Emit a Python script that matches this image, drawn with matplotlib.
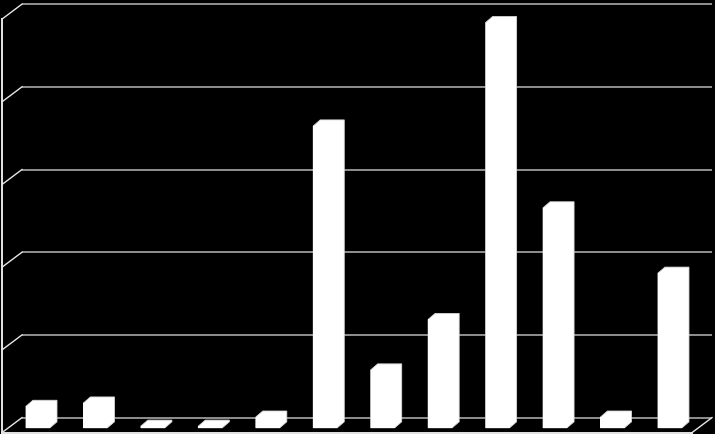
import matplotlib
matplotlib.use('Agg')
import matplotlib.pyplot as plt
from matplotlib.patches import Polygon
import numpy as np

# values (grid step = 10)
categories = list(range(1, 13))
values = [2.6, 3.0, 0.2, 0.2, 1.3, 36.5, 7.0, 13.1, 49.0, 26.6, 1.3, 18.7]
grid_values = [0, 10, 20, 30, 40, 50]

# oblique "3d" offsets in data units (x in categories, y in value units)
BAR_W = 0.418
BAR_DX, BAR_DY = 0.122, 0.73       # depth of a single bar
BACK_DX, BACK_DY = 0.237, 1.233    # bar plane -> back wall
FRONT_DX, FRONT_DY = -0.111, -0.58  # bar plane -> front floor edge
X_LEFT, X_RIGHT = -0.515, 11.495   # extent of the box in the bar plane

fig = plt.figure(figsize=(7.15, 4.35), dpi=100, facecolor='black')
ax = fig.add_axes([0, 0, 1, 1])
ax.set_facecolor('black')
ax.set_xlim(-0.661, 11.784)
ax.set_ylim(-0.75, 51.85)
ax.axis('off')

grid_col = '#a8a8a8'
edge_col = '#e6e6e6'

# back wall gridlines + their run down the left wall
for g in grid_values:
    ax.plot([X_LEFT + BACK_DX, X_RIGHT + BACK_DX], [g + BACK_DY, g + BACK_DY],
            color=grid_col, lw=1.2, solid_capstyle='butt')
    ax.plot([X_LEFT + BACK_DX, X_LEFT + FRONT_DX], [g + BACK_DY, g + FRONT_DY],
            color=edge_col, lw=1.0)

# left wall front edge
ax.plot([X_LEFT + FRONT_DX, X_LEFT + FRONT_DX], [FRONT_DY, grid_values[-1] + FRONT_DY],
        color=edge_col, lw=1.4)
# floor front edge and right diagonal
ax.plot([X_LEFT + FRONT_DX, X_RIGHT + FRONT_DX], [FRONT_DY, FRONT_DY],
        color=edge_col, lw=1.4)
ax.plot([X_RIGHT + FRONT_DX, X_RIGHT + BACK_DX], [FRONT_DY, BACK_DY],
        color=edge_col, lw=1.0)

# bars: white silhouette of front, top and side faces, then the front face
x = np.arange(len(categories))
for xi, v in zip(x, values):
    x0, x1 = xi - BAR_W / 2, xi + BAR_W / 2
    outline = [(x0, 0), (x0, v), (x0 + BAR_DX, v + BAR_DY),
               (x1 + BAR_DX, v + BAR_DY), (x1 + BAR_DX, BAR_DY), (x1, 0)]
    ax.add_patch(Polygon(outline, closed=True, facecolor='white',
                         edgecolor='#d8d8d8', lw=0.6, zorder=3))
ax.bar(x, values, width=BAR_W, color='white', edgecolor='none', zorder=4)

fig.savefig('out.png', dpi=100, facecolor='black')
